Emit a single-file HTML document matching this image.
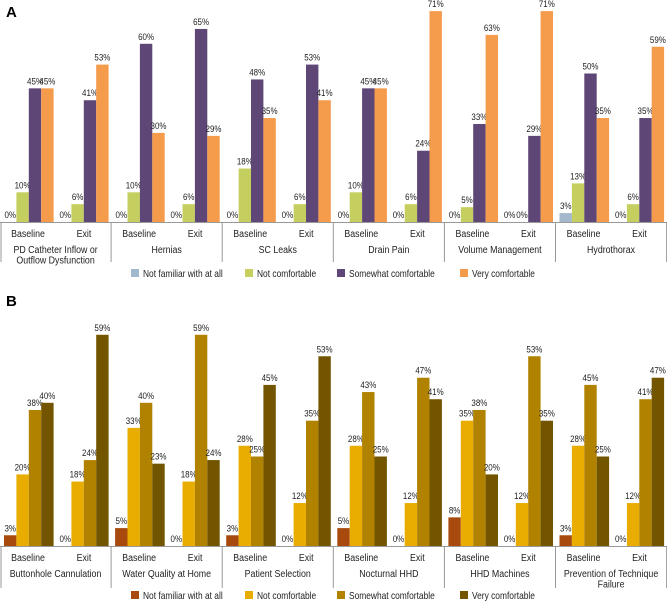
<!DOCTYPE html>
<html><head><meta charset="utf-8"><style>
body{margin:0;background:#fff}
svg{display:block;font-family:"Liberation Sans",Arial,sans-serif}
</style></head><body>
<svg id="c" width="667" height="601" viewBox="0 0 667 601" xmlns="http://www.w3.org/2000/svg">
<text x="6" y="17" font-size="15" font-weight="bold">A</text>
<text x="6" y="306" font-size="15" font-weight="bold">B</text>
</svg>
<script>
const catsA = [["PD Catheter Inflow or","Outflow Dysfunction"],["Hernias"],["SC Leaks"],["Drain Pain"],["Volume Management"],["Hydrothorax"]];
const baselineA = [[0,10,45,45],[0,10,60,30],[0,18,48,35],[0,10,45,45],[0,5,33,63],[3,13,50,35]];
const exitA = [[0,6,41,53],[0,6,65,29],[0,6,53,41],[0,6,24,71],[0,0,29,71],[0,6,35,59]];
const catsB = [["Buttonhole Cannulation"],["Water Quality at Home"],["Patient Selection"],["Nocturnal HHD"],["HHD Machines"],["Prevention of Technique","Failure"]];
const baselineB = [[3,20,38,40],[5,33,40,23],[3,28,25,45],[5,28,43,25],[8,35,38,20],[3,28,45,25]];
const exitB = [[0,18,24,59],[0,18,59,24],[0,12,35,53],[0,12,47,41],[0,12,53,35],[0,12,41,47]];
const seriesNames = ["Not familiar with at all","Not comfortable","Somewhat comfortable","Very comfortable"];
const phases = ["Baseline","Exit"];

const svg=document.getElementById('c');
const NS='http://www.w3.org/2000/svg';
const SX=0.84;
function mk(t,a,txt){const e=document.createElementNS(NS,t);for(const k in a)e.setAttribute(k,a[k]);if(txt!==undefined)e.textContent=txt;svg.appendChild(e);return e;}
function txt(x,y,size,anchor,s){
  return mk('text',{x:0,y:0,'font-size':size,'text-anchor':anchor,fill:'#222',transform:'translate('+x+','+y+') scale('+SX+',1)'},s);
}

function panel(cats,base,exit,colors,y0,scale,id,sepBottom,legendY){
  const cw=111.1, bw=12.4;
  const ax=mk('line',{x1:0,x2:667,y1:y0+0.5,y2:y0+0.5,stroke:'#999','stroke-width':1});
  
  
  const l0=mk('line',{x1:1,x2:1,y1:y0,y2:sepBottom,stroke:'#999'});
  
  
  cats.forEach((cat,i)=>{
    const cx=i*cw;
    const sep=mk('line',{x1:cx+cw,x2:cx+cw,y1:y0,y2:sepBottom,stroke:'#999'});
    
    
    [base[i],exit[i]].forEach((vals,p)=>{
      const sx=cx+4+p*55;
      vals.forEach((v,s)=>{
        const x=sx+s*bw, h=v*scale;
        const r=mk('rect',{x:x,y:y0-h,width:bw,height:h,fill:colors[s]});
        
        
        const t=txt(x+bw/2,y0-h-4,9.5,'middle',v+'%');
        
        
      });
      const pl=txt(sx+(p?25:24),y0+15,10.5,'middle',phases[p]);
      
      
    });
    cat.forEach((ln,j)=>{
      const t=txt(cx+cw/2,y0+31+j*10.5,10.5,'middle',ln);
      
      
    });
  });
  const lx=[131,245,337,460];
  seriesNames.forEach((n,s)=>{
    const r=mk('rect',{x:lx[s],y:legendY-8,width:8,height:8,fill:colors[s]});
    
    
    const t=txt(lx[s]+12,legendY,10,'start',n);
    
    
  });
}
panel(catsA,baselineA,exitA,['#a3b8cc','#c5cf5f','#5e4676','#f59b4c'],222,2.97,'panel-a',262,277);
panel(catsB,baselineB,exitB,['#a84a0e','#e8ad00','#b08200','#735500'],546,3.58,'panel-b',588,599);
</script>
</body></html>
